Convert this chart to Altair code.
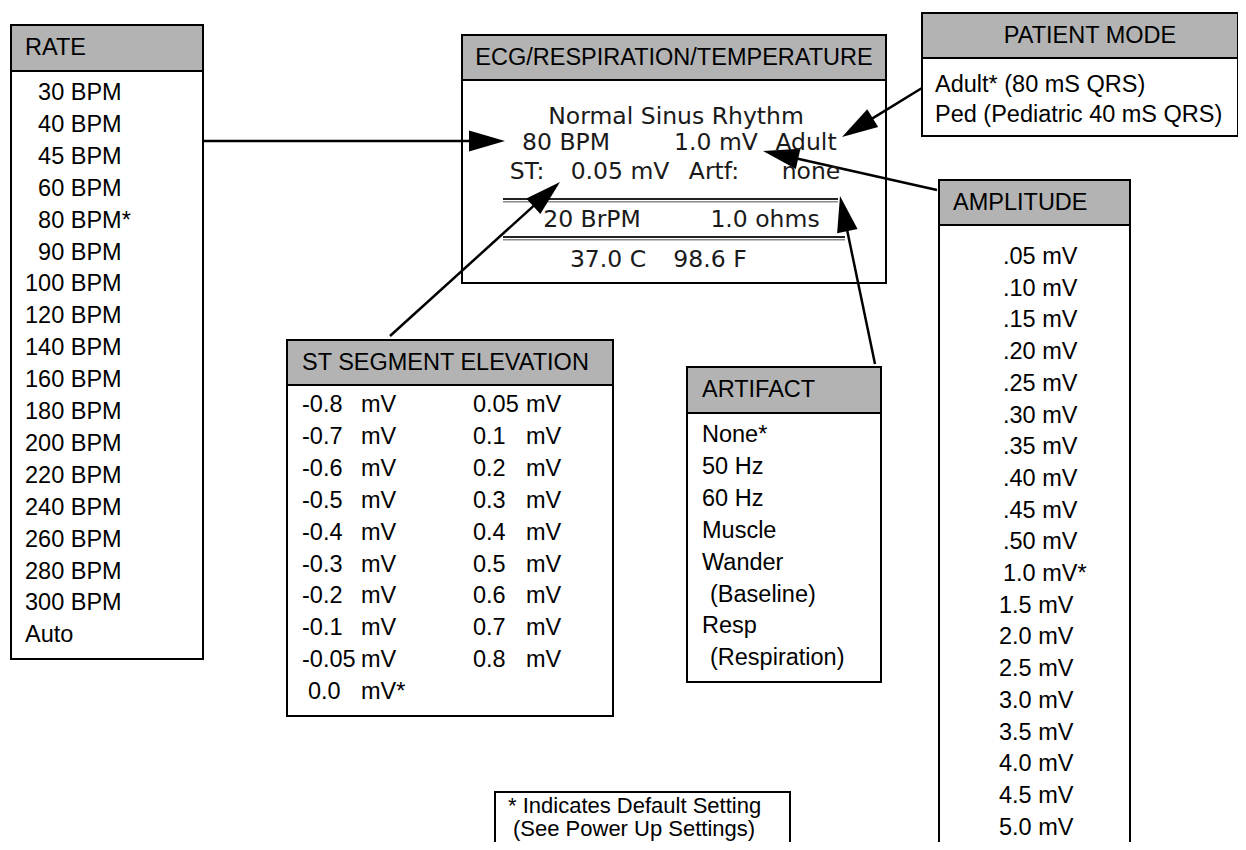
import math
import altair as alt
import pandas as pd

# ---------------- content ----------------
rate_title = "RATE"
rate_items = ["30 BPM", "40 BPM", "45 BPM", "60 BPM", "80 BPM*", "90 BPM", "100 BPM",
              "120 BPM", "140 BPM", "160 BPM", "180 BPM", "200 BPM", "220 BPM", "240 BPM",
              "260 BPM", "280 BPM", "300 BPM", "Auto"]
amp_title = "AMPLITUDE"
amp_items = [".05 mV", ".10 mV", ".15 mV", ".20 mV", ".25 mV", ".30 mV", ".35 mV", ".40 mV",
             ".45 mV", ".50 mV", "1.0 mV*", "1.5 mV", "2.0 mV", "2.5 mV", "3.0 mV", "3.5 mV",
             "4.0 mV", "4.5 mV", "5.0 mV"]
patient_title = "PATIENT MODE"
patient_items = ["Adult* (80 mS QRS)", "Ped (Pediatric 40 mS QRS)"]
st_title = "ST SEGMENT ELEVATION"
st_left_values = ["-0.8", "-0.7", "-0.6", "-0.5", "-0.4", "-0.3", "-0.2", "-0.1", "-0.05", "0.0"]
st_left_units = ["mV", "mV", "mV", "mV", "mV", "mV", "mV", "mV", "mV", "mV*"]
st_right_values = ["0.05", "0.1", "0.2", "0.3", "0.4", "0.5", "0.6", "0.7", "0.8"]
st_right_units = ["mV"] * 9
artifact_title = "ARTIFACT"
artifact_items = ["None*", "50 Hz", "60 Hz", "Muscle", "Wander", "(Baseline)", "Resp", "(Respiration)"]
artifact_sub = [False, False, False, False, False, True, False, True]
ecg_title = "ECG/RESPIRATION/TEMPERATURE"
ecg_rhythm = "Normal Sinus Rhythm"
ecg_rate, ecg_amp, ecg_mode = "80 BPM", "1.0 mV", "Adult"
ecg_st_label, ecg_st, ecg_artf_label, ecg_artf = "ST:", "0.05 mV", "Artf:", "none"
ecg_resp, ecg_ohms = "20 BrPM", "1.0 ohms"
ecg_temp_c, ecg_temp_f = "37.0 C", "98.6 F"
note_lines = ["* Indicates Default Setting", "(See Power Up Settings)"]

# ---------------- layout ----------------
W, H = 1230, 834
M = 8
FONT = "Liberation Sans"
LCD = "DejaVu Sans"
FS = 23.5
LCD_FS = 23.5
NOTE_FS = 22
ROW = 31.9
GRAY = "#b3b3b3"
DIGIT = 0.556 * FS

boxes = {
    "rate": dict(x0=11, x1=203, y0=25, yh=71, y1=659),
    "patient": dict(x0=922, x1=1238, y0=13, yh=58, y1=136),
    "ecg": dict(x0=462, x1=886, y0=35, yh=80, y1=283),
    "amp": dict(x0=939, x1=1130, y0=180, yh=225, y1=900),
    "st": dict(x0=287, x1=613, y0=340, yh=385, y1=716),
    "art": dict(x0=687, x1=881, y0=367, yh=413, y1=682),
}
note_box = dict(x0=495, x1=790, y0=792, y1=900)

rects = []
for b in boxes.values():
    rects.append(dict(x=b["x0"], x2=b["x1"], y=b["y0"], y2=b["y1"], fill="white"))
for b in boxes.values():
    rects.append(dict(x=b["x0"], x2=b["x1"], y=b["y0"], y2=b["yh"], fill=GRAY))
rects.append(dict(x=note_box["x0"], x2=note_box["x1"], y=note_box["y0"], y2=note_box["y1"], fill="white"))

left_txt = []
center_txt = []

# RATE
b = boxes["rate"]
left_txt.append(dict(t=rate_title, x=b["x0"] + 14, y=(b["y0"] + b["yh"]) / 2))
for i, s in enumerate(rate_items):
    num = s.split()[0]
    indent = DIGIT if (num.isdigit() and len(num) == 2) else 0
    left_txt.append(dict(t=s, x=b["x0"] + 14 + indent, y=93 + ROW * i))

# AMPLITUDE
b = boxes["amp"]
left_txt.append(dict(t=amp_title, x=b["x0"] + 14, y=(b["y0"] + b["yh"]) / 2))
for i, s in enumerate(amp_items):
    left_txt.append(dict(t=s, x=1003 if i <= 10 else 999, y=257 + 31.7 * i))

# PATIENT MODE
b = boxes["patient"]
center_txt.append(dict(t=patient_title, x=1090, y=(b["y0"] + b["yh"]) / 2))
for i, s in enumerate(patient_items):
    left_txt.append(dict(t=s, x=b["x0"] + 13, y=85 + 29.5 * i))

# ST SEGMENT
b = boxes["st"]
left_txt.append(dict(t=st_title, x=b["x0"] + 15, y=(b["y0"] + b["yh"]) / 2))
for i, (v, u) in enumerate(zip(st_left_values, st_left_units)):
    left_txt.append(dict(t=v, x=302 if v.startswith("-") else 308, y=405 + ROW * i))
    left_txt.append(dict(t=u, x=361, y=405 + ROW * i))
for i, (v, u) in enumerate(zip(st_right_values, st_right_units)):
    left_txt.append(dict(t=v, x=473, y=405 + ROW * i))
    left_txt.append(dict(t=u, x=526, y=405 + ROW * i))

# ARTIFACT
b = boxes["art"]
left_txt.append(dict(t=artifact_title, x=b["x0"] + 15, y=(b["y0"] + b["yh"]) / 2))
for i, (s, sub) in enumerate(zip(artifact_items, artifact_sub)):
    left_txt.append(dict(t=s, x=b["x0"] + 15 + (8 if sub else 0), y=435 + ROW * i))

# ECG title
b = boxes["ecg"]
center_txt.append(dict(t=ecg_title, x=(b["x0"] + b["x1"]) / 2, y=(b["y0"] + b["yh"]) / 2))

# LCD text
lcd_txt = [
    dict(t=ecg_rhythm, x=676, y=117),
    dict(t=ecg_rate, x=566, y=143), dict(t=ecg_amp, x=716, y=143), dict(t=ecg_mode, x=806, y=143),
    dict(t=ecg_st_label, x=527, y=172), dict(t=ecg_st, x=620, y=172),
    dict(t=ecg_artf_label, x=714, y=172), dict(t=ecg_artf, x=811, y=172),
    dict(t=ecg_resp, x=592, y=220), dict(t=ecg_ohms, x=765, y=220),
    dict(t=ecg_temp_c, x=608, y=260), dict(t=ecg_temp_f, x=710, y=260),
]
lcd_lines = [
    dict(x=503, x2=838, y=199, y2=199, c="#222222", w=2.2),
    dict(x=503, x2=838, y=201.8, y2=201.8, c="#8a8a8a", w=1.4),
    dict(x=503, x2=845, y=237, y2=237, c="#222222", w=2.2),
    dict(x=503, x2=845, y=239.8, y2=239.8, c="#8a8a8a", w=1.4),
]

note_txt = [dict(t=note_lines[0], x=508, y=806), dict(t=note_lines[1], x=513, y=829)]

# arrows: (start, tip)
arrows = [
    ((203, 141), (505, 141)),
    ((922, 88), (842, 137)),
    ((937, 190), (763, 151)),
    ((875, 364), (840, 196)),
    ((390, 336), (560, 182)),
]
HEAD = 36
arrow_lines, arrow_heads = [], []
for (sx, sy), (tx, ty) in arrows:
    dx, dy = tx - sx, ty - sy
    L = math.hypot(dx, dy)
    ux, uy = dx / L, dy / L
    arrow_lines.append(dict(x=sx, y=sy, x2=tx - ux * (HEAD - 6), y2=ty - uy * (HEAD - 6)))
    arrow_heads.append(dict(x=tx, y=ty, ang=math.degrees(math.atan2(dy, dx)) % 360))

# ---------------- chart ----------------
xs = alt.Scale(domain=[M, M + W], nice=False, zero=False)
ys = alt.Scale(domain=[M, M + H], nice=False, zero=False, reverse=True)
X = alt.X("x:Q", scale=xs, axis=None)
Y = alt.Y("y:Q", scale=ys, axis=None)

rect_layer = alt.Chart(pd.DataFrame(rects)).mark_rect(stroke="black", strokeWidth=2).encode(
    x=X, x2="x2:Q", y=Y, y2="y2:Q", fill=alt.Fill("fill:N", scale=None))

line_layer = alt.Chart(pd.DataFrame(arrow_lines)).mark_rule(color="black", strokeWidth=2.5).encode(
    x=X, x2="x2:Q", y=Y, y2="y2:Q")

head_layer = alt.Chart(pd.DataFrame(arrow_heads)).mark_point(
    shape="M0,0L-2,-0.58L-2,0.58Z", filled=True, size=HEAD * HEAD, color="black", opacity=1
).encode(x=X, y=Y, angle=alt.Angle("ang:Q", scale=None))

lcd_line_layer = alt.Chart(pd.DataFrame(lcd_lines)).mark_rule().encode(
    x=X, x2="x2:Q", y=Y, y2="y2:Q",
    color=alt.Color("c:N", scale=None), strokeWidth=alt.StrokeWidth("w:Q", scale=None))

left_layer = alt.Chart(pd.DataFrame(left_txt)).mark_text(
    align="left", baseline="middle", font=FONT, fontSize=FS, color="black").encode(
    x=X, y=Y, text="t:N")

center_layer = alt.Chart(pd.DataFrame(center_txt)).mark_text(
    align="center", baseline="middle", font=FONT, fontSize=FS, color="black").encode(
    x=X, y=Y, text="t:N")

lcd_layer = alt.Chart(pd.DataFrame(lcd_txt)).mark_text(
    align="center", baseline="middle", font=LCD, fontSize=LCD_FS, color="#1a1a1a").encode(
    x=X, y=Y, text="t:N")

note_layer = alt.Chart(pd.DataFrame(note_txt)).mark_text(
    align="left", baseline="middle", font=FONT, fontSize=NOTE_FS, color="black").encode(
    x=X, y=Y, text="t:N")

chart = alt.layer(
    rect_layer, lcd_line_layer, line_layer, head_layer,
    left_layer, center_layer, lcd_layer, note_layer
).properties(
    width=W, height=H, padding=0, autosize=alt.AutoSizeParams(type="none"), background="white"
).configure_view(stroke=None)

chart.save("out.html", embed_options={"renderer": "svg", "actions": False})
